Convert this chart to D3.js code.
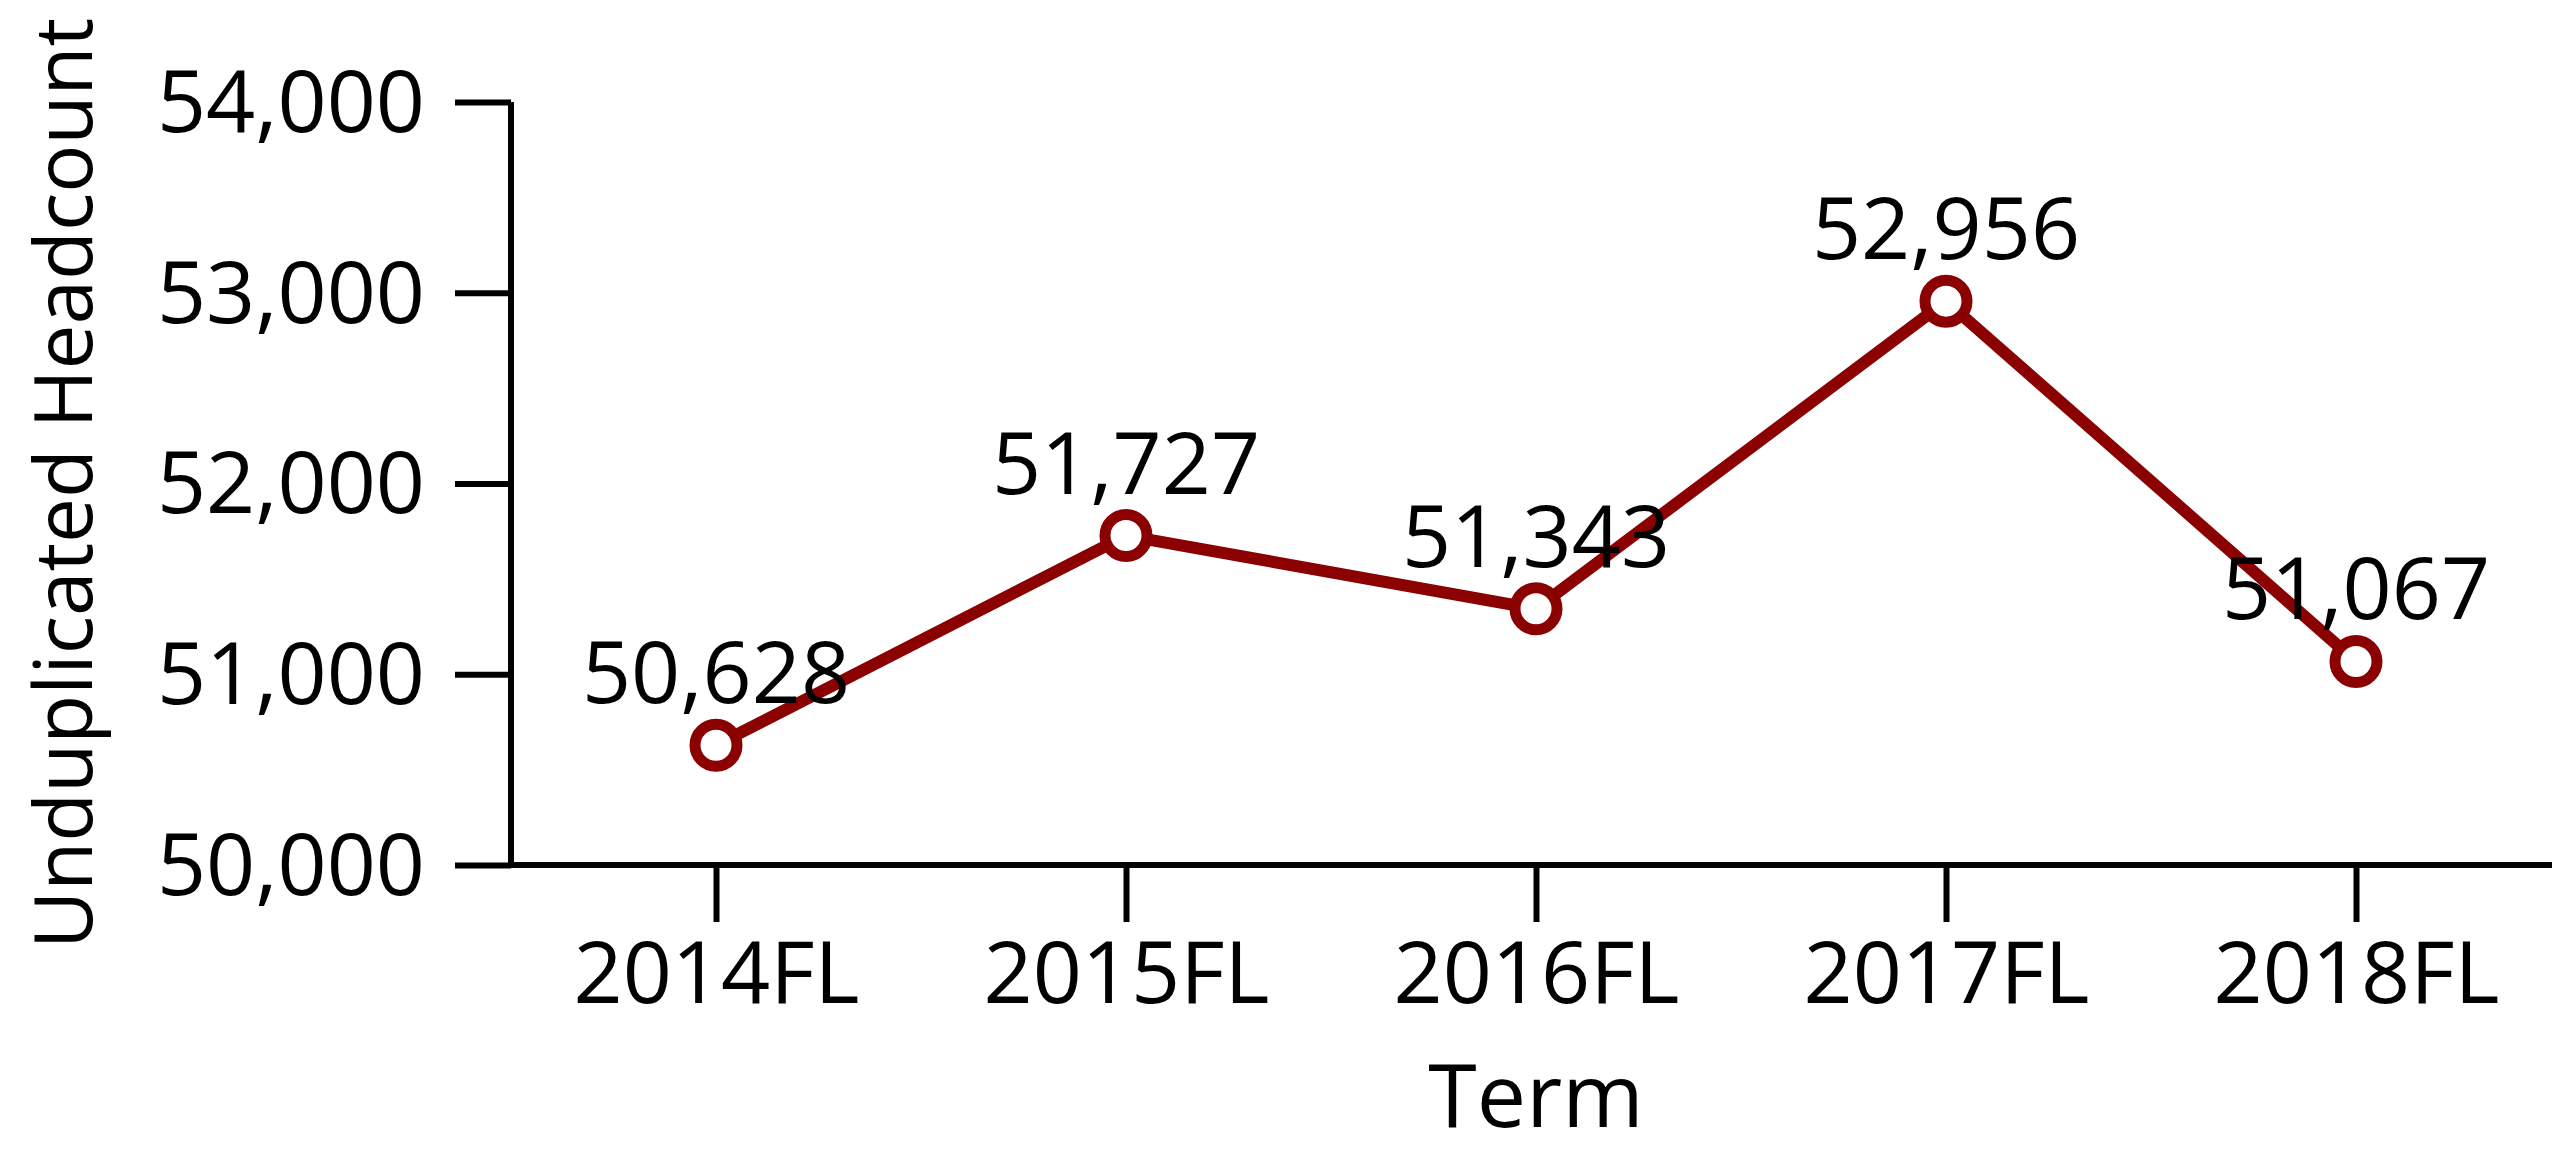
<!DOCTYPE html>
<html>
<head>
<meta charset="utf-8">
<script src="https://cdn.jsdelivr.net/npm/d3@7"></script>
<style>
  body { margin: 0; background: #fff; }
  text { font-family: "Open Sans", sans-serif; fill: #000; }
</style>
</head>
<body>
<div id="chart"></div>
<script>
var svgWidth = 2552;
var svgHeight = 1155;

// data
var terms = ["2014FL", "2015FL", "2016FL", "2017FL", "2018FL"];
var headcount = [50628, 51727, 51343, 52956, 51067];
var yTicks = [50000, 51000, 52000, 53000, 54000];

var margin = { top: 102, right: -9, bottom: 290, left: 511 };
var width = svgWidth - margin.left - margin.right;
var height = svgHeight - margin.top - margin.bottom;

var svg = d3.select("#chart")
  .append("svg")
  .attr("width", svgWidth)
  .attr("height", svgHeight);

var chartGroup = svg.append("g")
  .attr("transform", `translate(${margin.left}, ${margin.top})`);

var xScale = d3.scalePoint()
  .domain(terms)
  .range([0, width])
  .padding(0.5);

var yScale = d3.scaleLinear()
  .domain([50000, 54000])
  .range([height, 0]);

var bottomAxis = d3.axisBottom(xScale).tickSize(57).tickPadding(20);
var leftAxis = d3.axisLeft(yScale)
  .tickValues(yTicks)
  .tickFormat(d3.format(","))
  .tickSize(56)
  .tickPadding(30);

var xAxis = chartGroup.append("g")
  .attr("transform", `translate(0, ${height})`)
  .call(bottomAxis);

var yAxis = chartGroup.append("g")
  .call(leftAxis);

[xAxis, yAxis].forEach(function(ax) {
  ax.select(".domain").attr("stroke", "#000").attr("stroke-width", 6);
  ax.selectAll(".tick line").attr("stroke", "#000").attr("stroke-width", 6);
  ax.selectAll(".tick text")
    .style("font-size", "86px")
    .style("font-family", "'Open Sans', sans-serif")
    .attr("fill", "#000");
});
// flat domain ends, no outer ticks
xAxis.select(".domain").attr("d", `M-3,0H${width}`);
yAxis.select(".domain").attr("d", `M0,${height}V0`);
yAxis.selectAll(".tick text").attr("dy", "0.34em");

var series = terms.map(function(t, i) { return { term: t, value: headcount[i] }; });

var line = d3.line()
  .x(d => xScale(d.term))
  .y(d => yScale(d.value));

chartGroup.append("path")
  .datum(series)
  .attr("fill", "none")
  .attr("stroke", "#8b0000")
  .attr("stroke-width", 12)
  .attr("stroke-linejoin", "round")
  .attr("d", line);

chartGroup.selectAll("circle")
  .data(series)
  .enter()
  .append("circle")
  .attr("cx", d => xScale(d.term))
  .attr("cy", d => yScale(d.value))
  .attr("r", 21)
  .attr("fill", "#fff")
  .attr("stroke", "#8b0000")
  .attr("stroke-width", 11);

chartGroup.selectAll(".value-label")
  .data(series)
  .enter()
  .append("text")
  .attr("class", "value-label")
  .attr("x", d => xScale(d.term))
  .attr("y", d => yScale(d.value) - 42)
  .attr("text-anchor", "middle")
  .style("font-size", "86px")
  .text(d => d3.format(",")(d.value));

// axis titles
chartGroup.append("text")
  .attr("x", width / 2)
  .attr("y", height + 262)
  .attr("text-anchor", "middle")
  .style("font-size", "88px")
  .text("Term");

chartGroup.append("text")
  .attr("transform", "rotate(-90)")
  .attr("x", -height / 2)
  .attr("y", -margin.left + 92)
  .attr("text-anchor", "middle")
  .style("font-size", "80px")
  .text("Unduplicated Headcount");
</script>
</body>
</html>
